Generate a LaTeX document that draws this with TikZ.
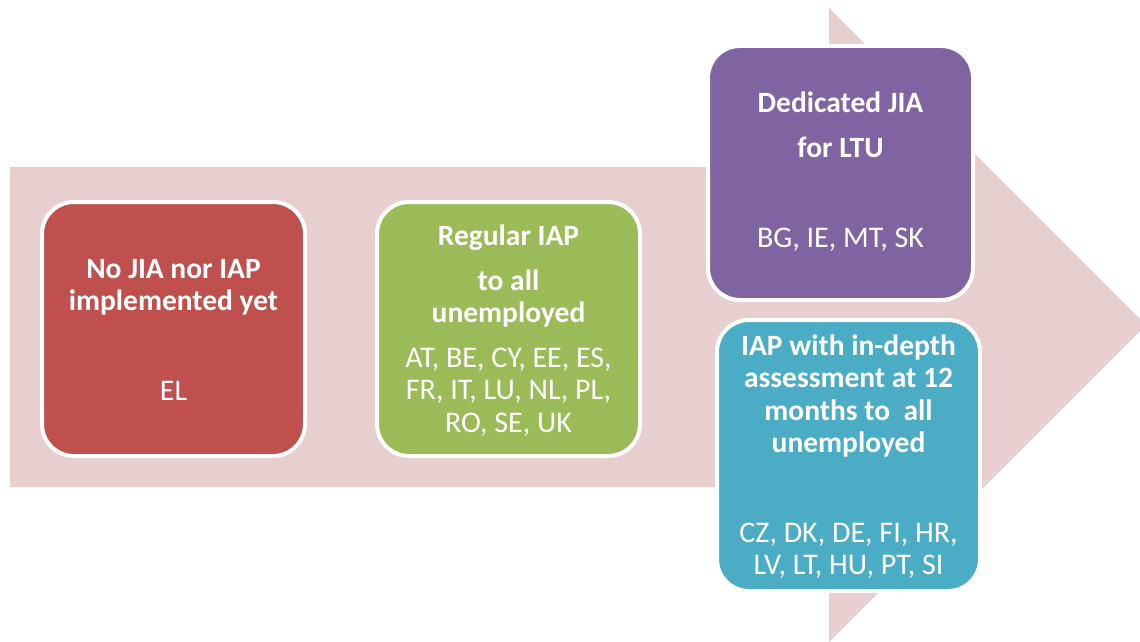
\documentclass[tikz,border=0pt]{standalone}
\usepackage{fontspec}
\setmainfont{Carlito}
\definecolor{arrowpink}{HTML}{E8CFCF}
\definecolor{boxred}{HTML}{C0504D}
\definecolor{boxgreen}{HTML}{9BBB59}
\definecolor{boxpurple}{HTML}{8064A2}
\definecolor{boxcyan}{HTML}{4BACC6}
\begin{document}
\begin{tikzpicture}[x=1pt,y=-1pt,
  card/.style={draw=white,line width=4pt,rounded corners=32pt},
  ttl/.style={text=white,font=\fontsize{29.5}{34}\selectfont\bfseries,anchor=base,inner sep=0pt},
  lst/.style={text=white,font=\fontsize{30}{34}\selectfont,anchor=base,inner sep=0pt}]
\useasboundingbox (0,0) rectangle (1140,642);
\clip (0,0) rectangle (1140,642);
% big arrow
\fill[arrowpink] (10,167) -- (829,167) -- (829,8) -- (1146,325) -- (829,642) -- (829,487) -- (10,487) -- cycle;
% cards
\draw[card,fill=boxred] (42,202) rectangle (305,456);
\draw[card,fill=boxgreen] (377,202) rectangle (640,456);
\draw[card,fill=boxpurple] (708,46) rectangle (973,300);
\draw[card,fill=boxcyan] (717,320) rectangle (980,591);
% red texts
\node[ttl] (r1) at (173.5,278) {No JIA nor IAP};
\node[ttl] (r2) at (173.5,310) {implemented yet};
\node[lst] (r3) at (173.5,400) {EL};
% green texts
\node[ttl] (g1) at (508.5,245) {Regular IAP};
\node[ttl] (g2) at (508.5,290) {to all};
\node[ttl] (g3) at (508.5,322) {unemployed};
\node[lst] (g4) at (508.5,367) {AT, BE, CY, EE, ES,};
\node[lst] (g5) at (508.5,399) {FR, IT, LU, NL, PL,};
\node[lst] (g6) at (508.5,432) {RO, SE, UK};
% purple texts
\node[ttl] (p1) at (840.5,112) {Dedicated JIA};
\node[ttl] (p2) at (840.5,157) {for LTU};
\node[lst] (p3) at (840.5,247) {BG, IE, MT, SK};
% cyan texts
\node[ttl] (c1) at (848.5,355) {IAP with in-depth};
\node[ttl] (c2) at (848.5,387) {assessment at 12};
\node[ttl] (c3) at (848.5,420) {months to\ \ all};
\node[ttl] (c4) at (848.5,452) {unemployed};
\node[lst] (c5) at (848.5,542) {CZ, DK, DE, FI, HR,};
\node[lst] (c6) at (848.5,574) {LV, LT, HU, PT, SI};
\end{tikzpicture}
\end{document}
